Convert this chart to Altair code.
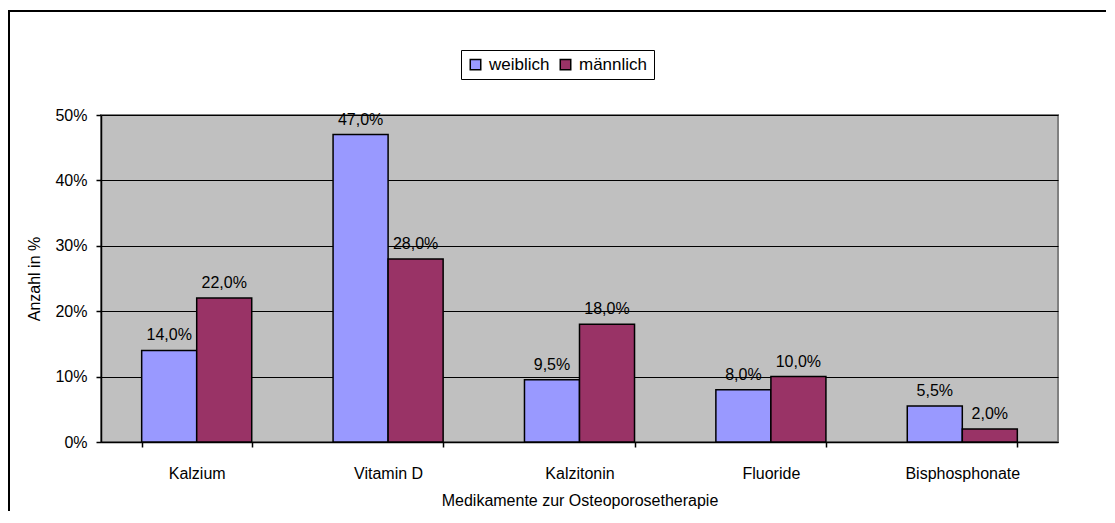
import altair as alt
import pandas as pd

categories = ["Kalzium", "Vitamin D", "Kalzitonin", "Fluoride", "Bisphosphonate"]
weiblich = [14.0, 47.0, 9.5, 8.0, 5.5]
maennlich = [22.0, 28.0, 18.0, 10.0, 2.0]
series = ["weiblich", "männlich"]
colors = ["#9999FF", "#993366"]
y_ticks = [0, 10, 20, 30, 40, 50]

rows = []
for c, w, m in zip(categories, weiblich, maennlich):
    for s, v in ((series[0], w), (series[1], m)):
        rows.append({"Kategorie": c, "Geschlecht": s, "Wert": v,
                     "Label": f"{v:.1f}%".replace(".", ",")})
df = pd.DataFrame(rows)

FONT = "Liberation Sans"
FS = 16

x_enc = alt.X("Kategorie:N", sort=categories,
              scale=alt.Scale(paddingInner=0.425, paddingOuter=0.2125),
              axis=alt.Axis(title="Medikamente zur Osteoporosetherapie", labelAngle=0,
                            tickBand="extent", labelPadding=18, titlePadding=11,
                            grid=False))
xo_enc = alt.XOffset("Geschlecht:N", sort=series)
y_enc = alt.Y("Wert:Q", scale=alt.Scale(domain=[0, 50], nice=False),
              axis=alt.Axis(title="Anzahl in %", values=y_ticks,
                            labelExpr="datum.value + '%'", grid=True,
                            gridColor="black", gridWidth=1, labelPadding=9,
                            titlePadding=12))

base = alt.Chart(df)

bars = base.mark_bar(stroke="black", strokeWidth=1.5).encode(
    x=x_enc, xOffset=xo_enc, y=y_enc,
    color=alt.Color("Geschlecht:N", sort=series,
                    scale=alt.Scale(domain=series, range=colors),
                    legend=alt.Legend(title=None, orient="none", legendX=360, legendY=-65,
                                      direction="horizontal", strokeColor="black",
                                      fillColor="white", padding=6, symbolType="square",
                                      symbolSize=110, symbolStrokeColor="black",
                                      symbolStrokeWidth=1.5, symbolOpacity=1,
                                      labelFontSize=17, labelFont=FONT, labelColor="black",
                                      columnPadding=7, labelOffset=5)),
)

labels = base.mark_text(baseline="alphabetic", dy=-10, font=FONT, fontSize=FS,
                        color="black").encode(
    x=x_enc, xOffset=xo_enc, y=y_enc, text="Label:N")

one = pd.DataFrame({"f": [0]})
frame_top = alt.Chart(one).mark_rule(color="black", strokeWidth=2).encode(
    x=alt.value(-93), x2=alt.value(1005), y=alt.value(-104))
frame_left = alt.Chart(one).mark_rule(color="black", strokeWidth=2).encode(
    x=alt.value(-92), y=alt.value(-105), y2=alt.value(500))

chart = alt.layer(bars, labels, frame_top, frame_left).properties(
    width=957, height=327,
    autosize=alt.AutoSizeParams(type="none"),
    padding={"left": 93, "top": 107, "right": 49, "bottom": 69},
).configure(
    background="white"
).configure_view(
    fill="#C0C0C0", stroke="#808080", strokeWidth=2
).configure_axis(
    labelFont=FONT, titleFont=FONT, labelFontSize=FS, titleFontSize=FS,
    labelColor="black", titleColor="black", titleFontWeight="normal",
    domainColor="black", tickColor="black", tickSize=5, domainWidth=1.5, tickWidth=1.5,
)

chart.save("out.html", embed_options={"renderer": "svg", "actions": False})
